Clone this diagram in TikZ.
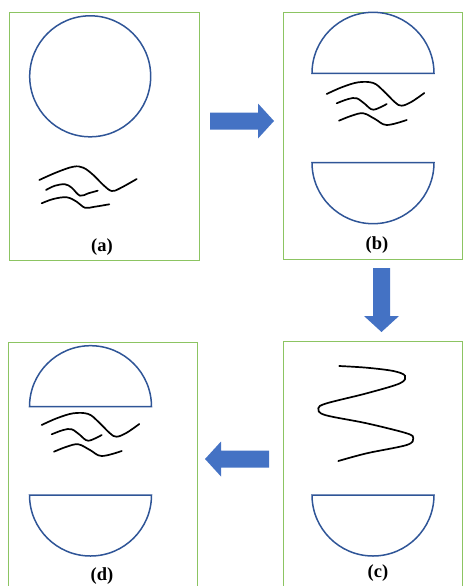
\documentclass[tikz,border=0pt]{standalone}
\usepackage{fontspec}
\setmainfont{Liberation Serif}
\definecolor{panelgreen}{RGB}{140,196,98}
\definecolor{shellblue}{RGB}{47,85,151}
\definecolor{arrowblue}{RGB}{68,114,196}
\tikzset{
  panel/.style={draw=panelgreen, line width=0.9pt, fill=none, inner sep=0pt, outer sep=0pt, anchor=north west},
  shell/.style={draw=shellblue, line width=1.5pt},
  strand/.style={draw=black, line width=1.7pt, line cap=round},
  caption/.style={font=\fontsize{18.5}{20}\selectfont\bfseries, inner sep=0pt},
  blockarrow/.pic={
    \fill[arrowblue] (0,-8.5) -- (48,-8.5) -- (48,-17.5) -- (64,0) -- (48,17.5) -- (48,8.5) -- (0,8.5) -- cycle;
  },
  strands/.pic={
    \draw[strand] plot[smooth, tension=0.6] coordinates {(0,0) (15,-6.7) (31.6,-11.7) (46.6,-11) (56.6,-3.3) (68.3,8.3) (75,11.7) (85,7.7) (97.6,-1)};
    \draw[strand] plot[smooth, tension=0.6] coordinates {(10,9.3) (21.6,5) (30,4.3) (38.3,10) (46.6,15.7) (60,10)};
    \draw[strand] plot[smooth, tension=0.6] coordinates {(12.3,26.7) (25,21.7) (36.6,19.3) (48.3,25) (60,31) (80,26)};
  }
}
\begin{document}
\begin{tikzpicture}[x=1pt, y=1pt, yscale=-1]
\useasboundingbox (0,0) rectangle (463,586);
\clip (0,0) rectangle (463,586);

% the four stages
\node[panel, minimum width=189.5pt, minimum height=247.5pt] (pa) at (9.5,12.5) {};
\node[panel, minimum width=179pt, minimum height=246.5pt] (pb) at (283,12.5) {};
\node[panel, minimum width=179pt, minimum height=250pt] (pc) at (283,341) {};
\node[panel, minimum width=189pt, minimum height=250pt] (pd) at (8,342) {};

% (a) intact shell with strands outside
\draw[shell] (90.2,76.3) circle[radius=60.5];
\draw[strand] plot[smooth, tension=0.6] coordinates {(39.3,180) (56.7,172.3) (73.3,166.7) (83.3,167.7) (93.3,175) (103.3,185) (111.7,191) (120,188.3) (136.7,179)};
\draw[strand] plot[smooth, tension=0.6] coordinates {(46,190) (55,185.7) (65,184.3) (71.7,187.7) (80,195.7) (88.3,193.3) (97.7,190.7)};
\draw[strand] plot[smooth, tension=0.6] coordinates {(41.7,203.3) (53.3,199) (66.7,197.3) (76.7,201.7) (85,207.7) (95,206.7) (109.3,204.3)};
\node[caption] (la) at (102,247) {(a)};

% (b) opened shell, strands in between
\draw[shell] (312,73.3) arc[start angle=180, end angle=360, radius=61] -- cycle;
\draw[shell] (312,162.7) arc[start angle=180, end angle=0, radius=61] -- cycle;
\pic[transform shape] at (326.7,94) {strands};
\node[caption] (lb) at (377,245) {(b)};

% (c) coiled strand above the lower half
\draw[strand] plot[smooth, tension=0.55] coordinates {(339.3,366) (366.7,367.7) (393.3,371) (405,375.7) (400,383.3) (366.7,393.3) (326.7,403.3) (318.3,408.3) (325,415) (366.7,423.3) (406.7,433.3) (413.3,438.3) (406.7,445) (366.7,453.3) (338.3,461)};
\draw[shell] (312,495) arc[start angle=180, end angle=0, radius=61] -- cycle;
\node[caption] (lc) at (378,573) {(c)};

% (d) shell halves with strands again
\draw[shell] (29.5,406.7) arc[start angle=180, end angle=360, radius=61] -- cycle;
\draw[shell] (29.5,495) arc[start angle=180, end angle=0, radius=61] -- cycle;
\pic[transform shape] at (41.7,425) {strands};
\node[caption] (ld) at (102,576) {(d)};

% transitions between the stages
\coordinate (ab) at (210,121);
\coordinate (bc) at (381.5,268);
\coordinate (cd) at (269,459);
\pic[transform shape] at (ab) {blockarrow};
\pic[transform shape, rotate=90] at (bc) {blockarrow};
\pic[transform shape, rotate=180] at (cd) {blockarrow};
\end{tikzpicture}
\end{document}
